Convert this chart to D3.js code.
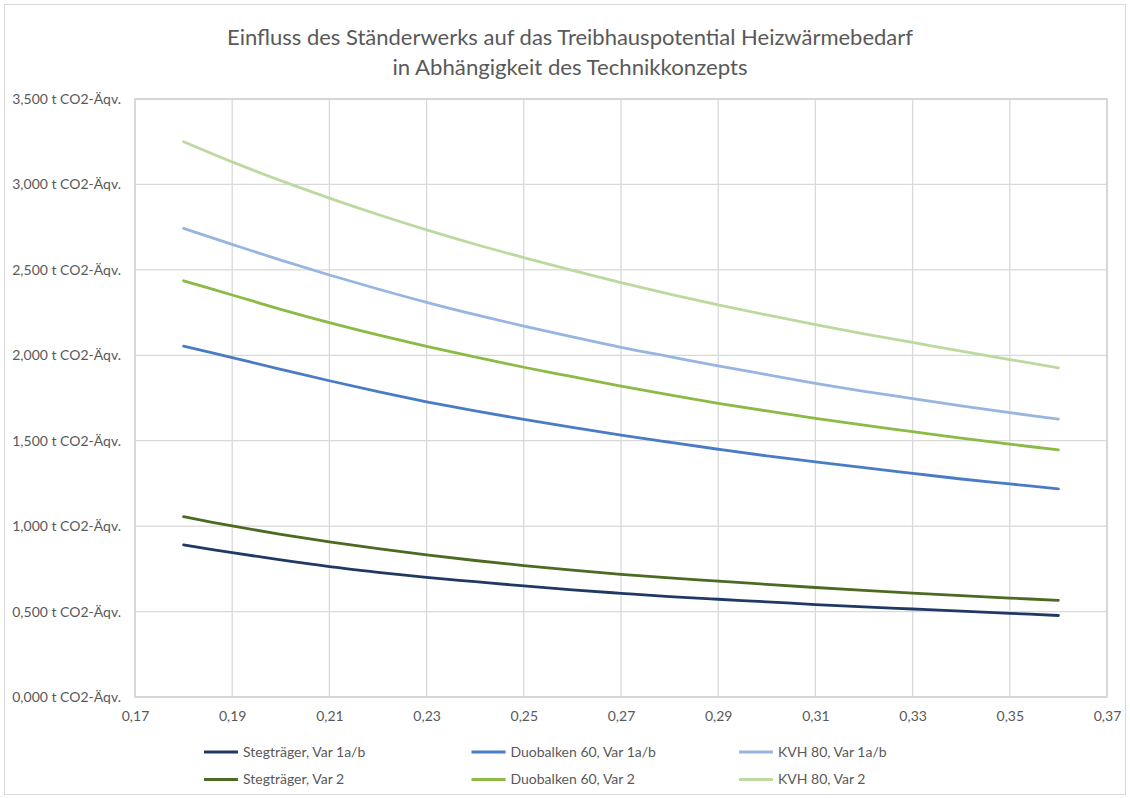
<!DOCTYPE html>
<html>
<head>
<meta charset="utf-8">
<script src="https://cdn.jsdelivr.net/npm/d3@7"></script>
<style>
  body { margin: 0; background: #fff; }
  svg { display: block; }
  text { font-family: Lato, "Open Sans", sans-serif; fill: #595959; }
</style>
</head>
<body>
<svg id="chart" width="1130" height="798"></svg>
<script>
// U-Wert der Außenwand [W/(m²K)]
const uValues = [0.18, 0.19, 0.20, 0.21, 0.22, 0.23, 0.24, 0.25, 0.26, 0.27,
                 0.28, 0.29, 0.30, 0.31, 0.32, 0.33, 0.34, 0.35, 0.36];

// Treibhauspotential Heizwärmebedarf [t CO2-Äqv.]
const stegVar1 = [0.890, 0.845, 0.802, 0.763, 0.730, 0.700, 0.675, 0.650, 0.627, 0.607,
                  0.588, 0.572, 0.557, 0.541, 0.527, 0.515, 0.503, 0.490, 0.477];
const duoVar1  = [2.054, 1.986, 1.918, 1.851, 1.787, 1.728, 1.674, 1.625, 1.578, 1.533,
                  1.491, 1.450, 1.411, 1.376, 1.342, 1.309, 1.276, 1.247, 1.218];
const kvhVar1  = [2.743, 2.649, 2.557, 2.470, 2.388, 2.310, 2.238, 2.171, 2.108, 2.047,
                  1.992, 1.938, 1.887, 1.836, 1.789, 1.747, 1.704, 1.664, 1.627];
const stegVar2 = [1.055, 1.001, 0.952, 0.908, 0.868, 0.832, 0.799, 0.769, 0.742, 0.718,
                  0.697, 0.678, 0.659, 0.641, 0.624, 0.608, 0.593, 0.579, 0.566];
const duoVar2  = [2.436, 2.353, 2.269, 2.191, 2.119, 2.052, 1.990, 1.930, 1.875, 1.820,
                  1.768, 1.719, 1.674, 1.631, 1.591, 1.553, 1.515, 1.480, 1.446];
const kvhVar2  = [3.250, 3.132, 3.022, 2.920, 2.824, 2.734, 2.650, 2.572, 2.497, 2.425,
                  2.358, 2.295, 2.236, 2.180, 2.126, 2.075, 2.024, 1.975, 1.927];

const seriesNames = ["Stegträger, Var 1a/b", "Duobalken 60, Var 1a/b", "KVH 80, Var 1a/b",
                     "Stegträger, Var 2", "Duobalken 60, Var 2", "KVH 80, Var 2"];
const seriesValues = [stegVar1, duoVar1, kvhVar1, stegVar2, duoVar2, kvhVar2];
const seriesColors = ["#203864", "#4a7cc6", "#97b5e0", "#4b6a22", "#8cba45", "#bcd99f"];

const xTicks = [0.17, 0.19, 0.21, 0.23, 0.25, 0.27, 0.29, 0.31, 0.33, 0.35, 0.37];
const yTicks = [0, 0.5, 1.0, 1.5, 2.0, 2.5, 3.0, 3.5];

const titleLines = ["Einfluss des Ständerwerks auf das Treibhauspotential Heizwärmebedarf",
                    "in Abhängigkeit des Technikkonzepts"];

// German number formatting (decimal comma)
const de = d3.formatLocale({ decimal: ",", thousands: ".", grouping: [3], currency: ["", " €"] });
const fmtX = de.format(".2f");
const fmtY = d => de.format(".3f")(d) + " t CO2-Äqv.";

const W = 1130, H = 798;
const plot = { left: 135, right: 1107, top: 99, bottom: 697 };

const svg = d3.select("#chart");

// outer chart frame
svg.append("rect")
  .attr("x", 4.5).attr("y", 4.5).attr("width", W - 9).attr("height", H - 8)
  .attr("fill", "#fff").attr("stroke", "#d9d9d9");

const x = d3.scaleLinear().domain([0.17, 0.37]).range([plot.left, plot.right]);
const y = d3.scaleLinear().domain([0, 3.5]).range([plot.bottom, plot.top]);

// grid
const grid = svg.append("g").attr("stroke", "#d9d9d9").attr("stroke-width", 1.3);
grid.selectAll("line.v").data(xTicks).join("line")
  .attr("x1", d => x(d)).attr("x2", d => x(d))
  .attr("y1", plot.top).attr("y2", plot.bottom);
grid.selectAll("line.h").data(yTicks).join("line")
  .attr("y1", d => y(d)).attr("y2", d => y(d))
  .attr("x1", plot.left).attr("x2", plot.right);

// plot area frame
svg.append("rect")
  .attr("x", plot.left).attr("y", plot.top)
  .attr("width", plot.right - plot.left).attr("height", plot.bottom - plot.top)
  .attr("fill", "none").attr("stroke", "#d0d0d0").attr("stroke-width", 1.3);

// axes (labels only, the frame draws the lines)
const xAxis = svg.append("g")
  .attr("transform", `translate(0,${plot.bottom + 8})`)
  .call(d3.axisBottom(x).tickValues(xTicks).tickFormat(fmtX).tickSize(0).tickPadding(6));
const yAxis = svg.append("g")
  .attr("transform", `translate(${plot.left - 14},0)`)
  .call(d3.axisLeft(y).tickValues(yTicks).tickFormat(fmtY).tickSize(0).tickPadding(0));
[xAxis, yAxis].forEach(a => {
  a.select(".domain").remove();
  a.selectAll("text").attr("font-family", "Lato, sans-serif").attr("font-size", 14).attr("fill", "#595959");
});

// curves
const line = d3.line()
  .x((d, i) => x(uValues[i]))
  .y(d => y(d))
  .curve(d3.curveCatmullRom.alpha(0.5));

svg.append("g").selectAll("path").data(seriesValues).join("path")
  .attr("d", d => line(d))
  .attr("fill", "none")
  .attr("stroke", (d, i) => seriesColors[i])
  .attr("stroke-width", 2.8)
  .attr("stroke-linecap", "round");

// title
svg.append("g").selectAll("text").data(titleLines).join("text")
  .attr("x", 570).attr("y", (d, i) => 45 + i * 30)
  .attr("text-anchor", "middle")
  .attr("font-size", 21)
  .attr("fill", "#595959")
  .attr("textLength", (d, i) => i === 0 ? 686 : 355)
  .attr("lengthAdjust", "spacingAndGlyphs")
  .text(d => d);

// legend, 3 columns x 2 rows
const legend = svg.append("g");
const items = legend.selectAll("g").data(seriesNames).join("g")
  .attr("transform", (d, i) => `translate(${204 + (i % 3) * 267.5},${752 + Math.floor(i / 3) * 27.5})`);
items.append("line")
  .attr("x1", 0).attr("x2", 34).attr("y1", 0).attr("y2", 0)
  .attr("stroke", (d, i) => seriesColors[i]).attr("stroke-width", 2.8);
items.append("text")
  .attr("x", 39).attr("y", 0).attr("dy", "0.35em")
  .attr("font-size", 14)
  .text(d => d);
</script>
</body>
</html>
